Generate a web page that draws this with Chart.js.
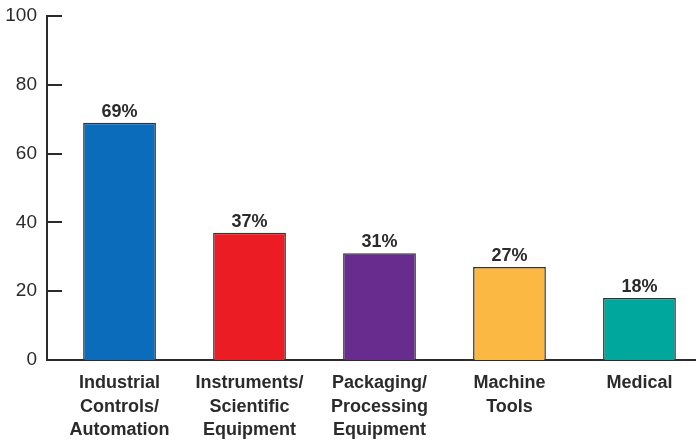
<!DOCTYPE html>
<html>
<head>
<meta charset="utf-8">
<script src="https://cdn.jsdelivr.net/npm/chart.js@4/dist/chart.umd.min.js"></script>
<style>
  html, body { margin: 0; padding: 0; background: #fff; overflow: hidden; }
  canvas { display: block; }
</style>
</head>
<body>
<canvas id="chart" width="696" height="440"></canvas>
<script>
// ============================================
// DATA
// ============================================
const categories = [
  ['Industrial', 'Controls/', 'Automation'],
  ['Instruments/', 'Scientific', 'Equipment'],
  ['Packaging/', 'Processing', 'Equipment'],
  ['Machine', 'Tools'],
  ['Medical']
];
const shares = [69, 37, 31, 27, 18];
const barColors = ['#0B6CBC', '#EC1C24', '#682C8F', '#FBB843', '#00A79D'];
const yTicks = [0, 20, 40, 60, 80, 100];

const FONT = "'Liberation Sans', Arial, sans-serif";
const INK = '#2b2b2b';

// ============================================
// PLUGINS
// ============================================
// short tick marks pointing into the plot area
const innerTicks = {
  id: 'innerTicks',
  afterDraw(chart) {
    const { ctx, chartArea, scales } = chart;
    ctx.save();
    ctx.strokeStyle = INK;
    ctx.lineWidth = 2;
    scales.y.ticks.forEach(t => {
      const y = Math.round(scales.y.getPixelForValue(t.value));
      ctx.beginPath();
      ctx.moveTo(chartArea.left, y);
      ctx.lineTo(chartArea.left + 15, y);
      ctx.stroke();
    });
    ctx.restore();
  }
};

// percentage labels above each bar
const valueLabels = {
  id: 'valueLabels',
  afterDatasetsDraw(chart) {
    const { ctx } = chart;
    const meta = chart.getDatasetMeta(0);
    ctx.save();
    ctx.font = 'bold 18px ' + FONT;
    ctx.fillStyle = INK;
    ctx.textAlign = 'center';
    ctx.textBaseline = 'alphabetic';
    meta.data.forEach((bar, i) => {
      ctx.fillText(shares[i] + '%', bar.x, bar.y - 6);
    });
    ctx.restore();
  }
};

// ============================================
// CHART
// ============================================
new Chart(document.getElementById('chart'), {
  type: 'bar',
  data: {
    datasets: [{
      data: shares.map((v, i) => ({ x: i, y: v })),
      backgroundColor: barColors,
      borderColor: '#333333',
      borderWidth: 1.5,
      categoryPercentage: 1,
      barPercentage: 0.56
    }]
  },
  options: {
    responsive: false,
    animation: false,
    layout: { padding: { top: 16, right: 0, bottom: 0, left: 0 } },
    plugins: { legend: { display: false }, tooltip: { enabled: false } },
    scales: {
      x: {
        type: 'linear',
        offset: false,
        min: -0.558,
        max: 4.435,
        afterBuildTicks: (scale) => { scale.ticks = categories.map((c, i) => ({ value: i })); },
        afterFit: (scale) => { scale.height = 80; scale.paddingLeft = 0; scale.paddingRight = 0; },
        grid: { display: false, drawTicks: false },
        border: { display: true, color: INK, width: 2 },
        ticks: {
          autoSkip: false,
          maxRotation: 0,
          padding: 12,
          color: INK,
          font: { family: FONT, size: 18, weight: 'bold', lineHeight: 1.28 },
          callback: (v) => categories[v]
        }
      },
      y: {
        min: 0,
        max: 100,
        afterBuildTicks: (scale) => { scale.ticks = yTicks.map(v => ({ value: v })); },
        afterFit: (scale) => { scale.width = 47; scale.paddingTop = 0; scale.paddingBottom = 0; },
        grid: { display: false, drawTicks: false },
        border: { display: true, color: INK, width: 2 },
        ticks: {
          padding: 10,
          color: INK,
          font: { family: FONT, size: 19 }
        }
      }
    }
  },
  plugins: [innerTicks, valueLabels]
});
</script>
</body>
</html>
